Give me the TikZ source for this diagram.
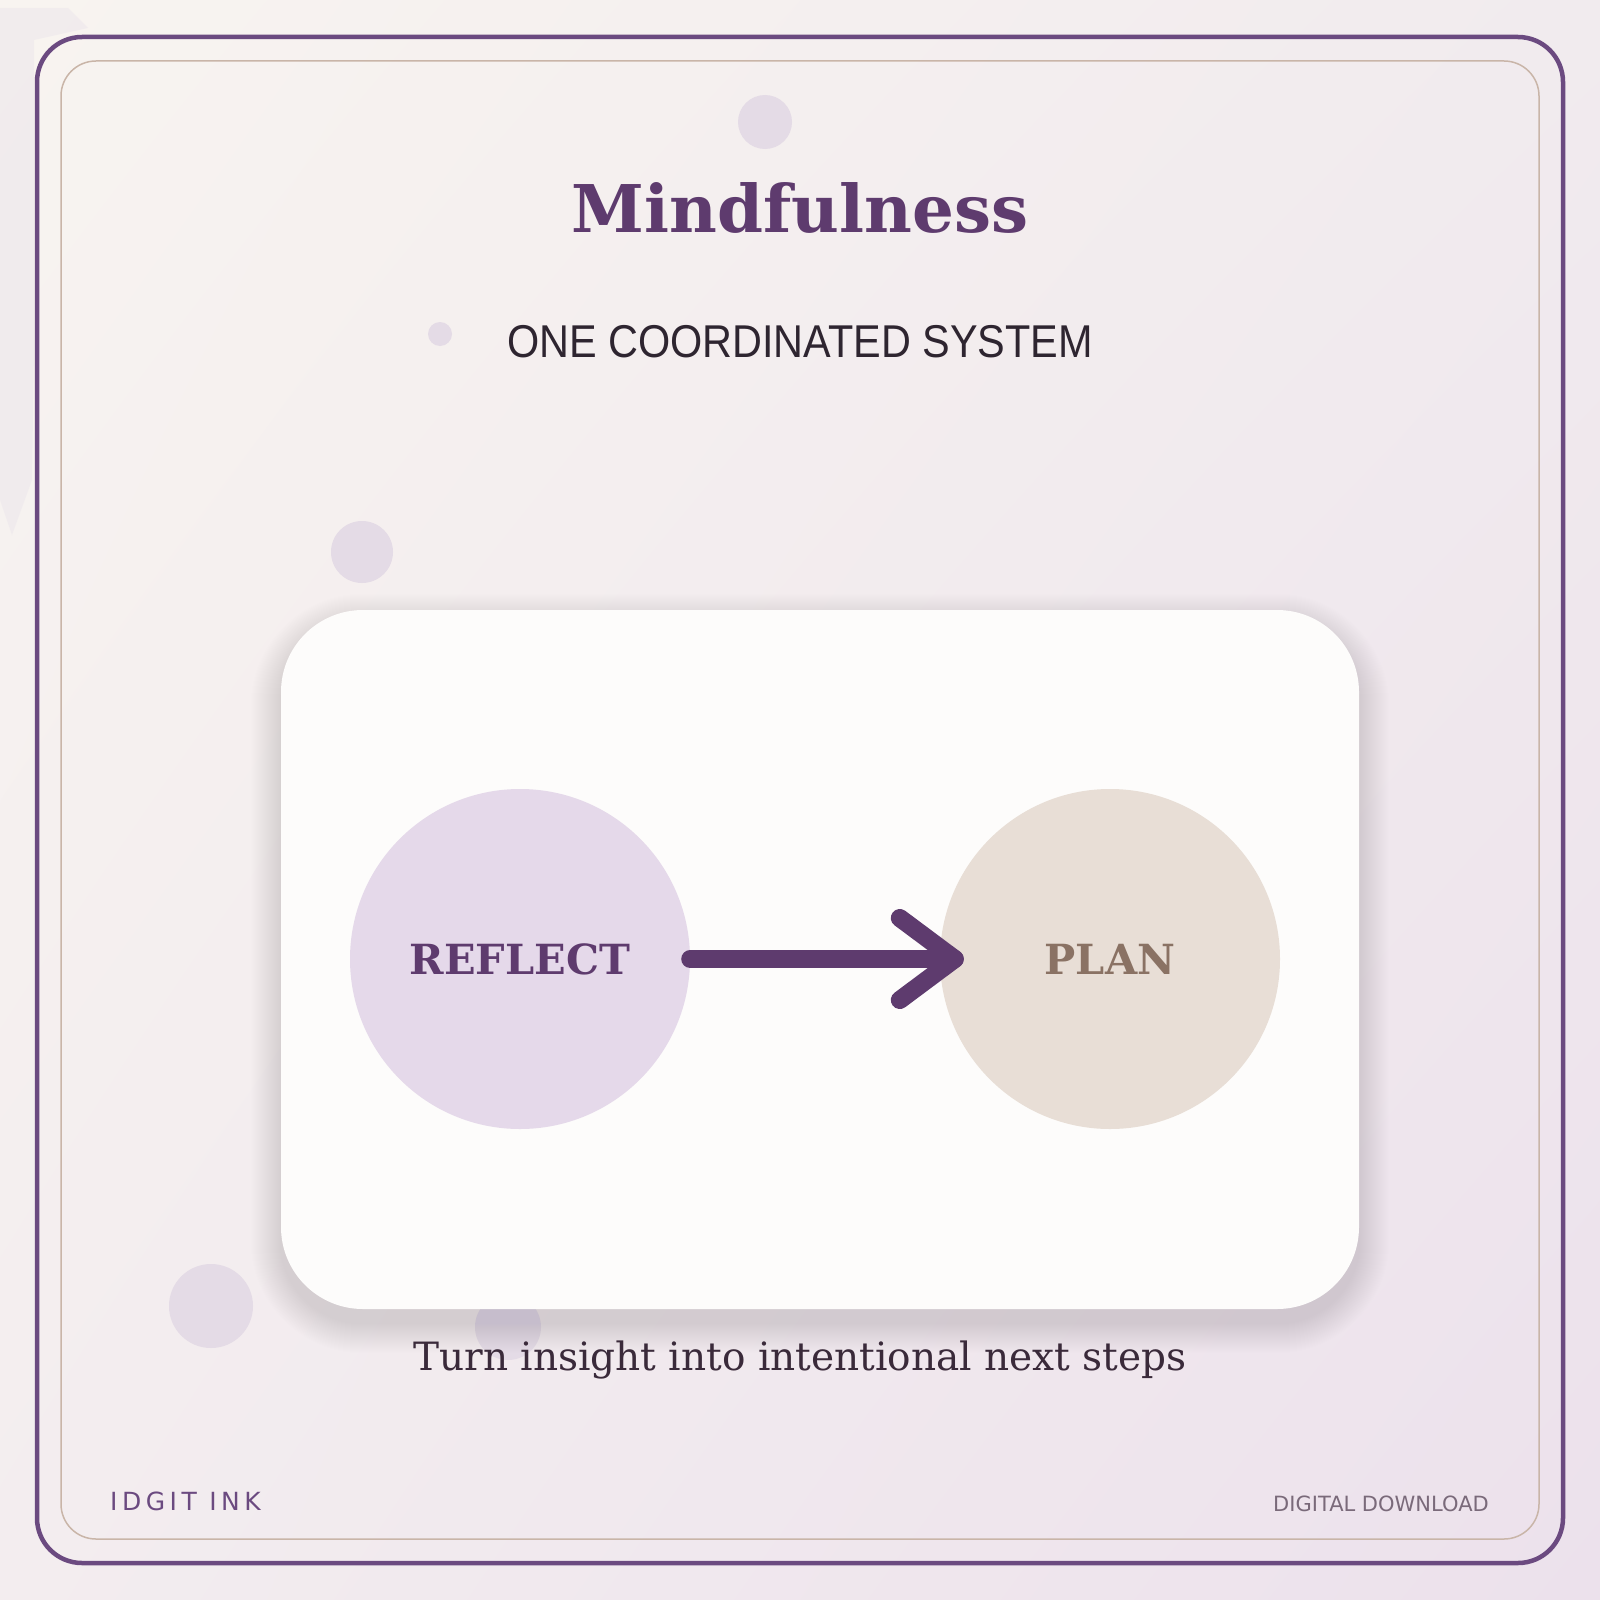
\documentclass[tikz,border=0pt]{standalone}
\usepackage{fontspec}
\setmainfont{DejaVu Serif}
\newfontfamily\titlefont{DejaVu Serif}
\newfontfamily\subfont[FakeStretch=0.90]{Liberation Sans}
\newfontfamily\brandfont[LetterSpace=18]{DejaVu Sans}
\newfontfamily\dlfont{DejaVu Sans}
\usetikzlibrary{calc,shadings}
\definecolor{plum}{HTML}{5E3B6E}
\definecolor{frameplum}{HTML}{6B4A80}
\definecolor{tan}{HTML}{C9B5A8}
\definecolor{bgA}{HTML}{F8F4F0}
\definecolor{bgB}{HTML}{F1EBEE}
\definecolor{bgC}{HTML}{F3EDEF}
\definecolor{bgD}{HTML}{ECE1EC}
\definecolor{deco}{HTML}{E4DBE6}
\definecolor{cardwhite}{HTML}{FDFCFB}
\definecolor{shadowcol}{HTML}{BBA6CC}
\definecolor{reflectfill}{HTML}{E5D9EA}
\definecolor{planfill}{HTML}{E8DED6}
\definecolor{plantext}{HTML}{8A7264}
\definecolor{darktext}{HTML}{2E2530}
\definecolor{captiontext}{HTML}{3A2A3A}
\definecolor{dltext}{HTML}{7A6A7A}
\definecolor{strip}{HTML}{ECE6EC}
\tikzset{
  decodot/.style={fill=deco, draw=none},
  stagecircle/.style={circle, inner sep=0pt, minimum size=340pt, draw=none},
  stagelabel/.style={font=\titlefont\bfseries\fontsize{41.5}{46}\selectfont},
  arrowline/.style={draw=plum, line width=18pt, line cap=round, line join=round},
}
\begin{document}
\begin{tikzpicture}[x=1pt,y=-1pt]
\useasboundingbox (0,0) rectangle (1600,1600);
% background
\shade[shading=bilinear interpolation, upper left=bgA, upper right=bgB, lower left=bgC, lower right=bgD] (0,0) rectangle (1600,1600);
% faint strip top-left
\fill[strip, opacity=0.55] (0,8) -- (68,8) -- (88,28) -- (34,40) -- (34,350) -- (32,480) -- (12,535) -- (0,500) -- cycle;
% frames
\draw[frameplum, line width=4.5pt, rounded corners=45pt] (37,37) rectangle (1563,1563);
\draw[tan, line width=1.5pt, rounded corners=35pt] (61,61) rectangle (1539,1539);
% decorative dots
\fill[decodot] (765,122) circle (27);
\fill[decodot] (440,334) circle (12);
\fill[decodot] (362,552) circle (31);
\fill[decodot] (211,1306) circle (42);
\fill[decodot] (508,1327) circle (33);
% title and subtitle
\node[anchor=base, text=plum, font=\titlefont\bfseries\fontsize{65.8}{72}\selectfont] (title) at (800,232) {Mindfulness};
\node[anchor=base, text=darktext, font=\subfont\fontsize{46}{50}\selectfont] (subtitle) at (800,357) {ONE COORDINATED SYSTEM};
% card shadow
\foreach \i in {1,...,30}{
  \fill[shadowcol, opacity=0.012, rounded corners={82pt+\i pt}] (281-\i,610-\i+14) rectangle (1359+\i,1309+\i+14);
}
% card
\node[fill=cardwhite, draw=none, rounded corners=82pt, minimum width=1078pt, minimum height=699pt, inner sep=0pt] (card) at (820,959.5) {};
% stages
\node[stagecircle, fill=reflectfill] (reflect) at (520,959) {};
\node[stagelabel, text=plum] (reflectlabel) at (reflect) {REFLECT};
\node[stagecircle, fill=planfill] (plan) at (1110,959) {};
\node[stagelabel, text=plantext] (planlabel) at (plan) {PLAN};
% arrow
\coordinate (tip) at ($(plan.west)+(15,0)$);
\draw[arrowline] (reflect.east) -- (tip);
\draw[arrowline] ($(tip)+(-55,-41)$) -- (tip) -- ($(tip)+(-55,41)$);
% caption
\node[anchor=base, text=captiontext, font=\titlefont\fontsize{39}{44}\selectfont] (caption) at (800,1370) {Turn insight into intentional next steps};
% footer
\node[anchor=base west, text=frameplum, font=\brandfont\fontsize{25}{28}\selectfont, inner sep=0pt] (brand) at (110,1510) {IDGIT INK};
\node[anchor=base east, text=dltext, font=\dlfont\fontsize{21}{24}\selectfont, inner sep=0pt] (download) at (1489,1511) {DIGITAL DOWNLOAD};
\end{tikzpicture}
\end{document}
